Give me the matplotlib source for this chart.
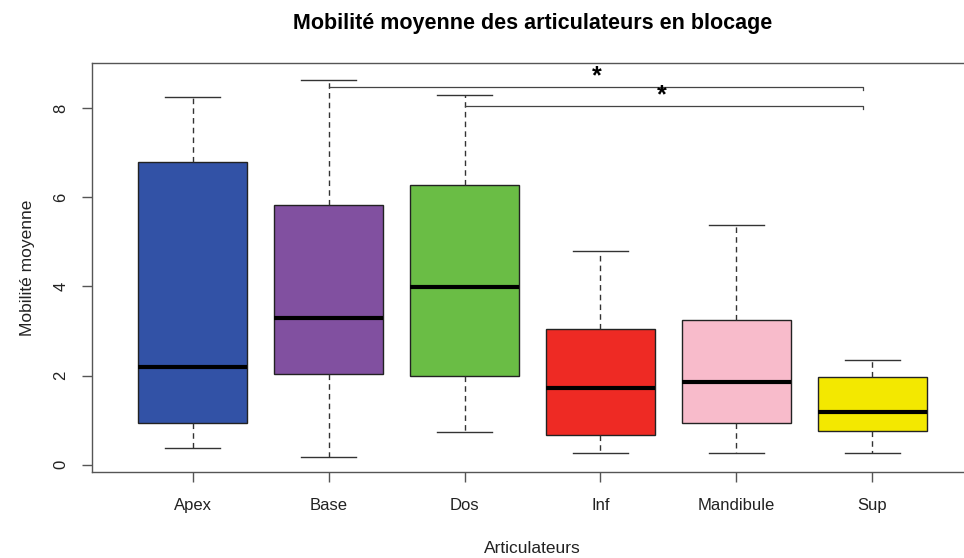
import matplotlib
matplotlib.use("Agg")
import matplotlib.pyplot as plt

plt.rcParams['font.family'] = ['Liberation Sans', 'DejaVu Sans']

# Summary statistics per articulator
categories = ["Apex", "Base", "Dos", "Inf", "Mandibule", "Sup"]
whisk_low = [0.38, 0.18, 0.74, 0.27, 0.27, 0.27]
q1 = [0.94, 2.04, 2.00, 0.67, 0.94, 0.76]
medians = [2.20, 3.30, 3.99, 1.73, 1.86, 1.19]
q3 = [6.79, 5.83, 6.28, 3.05, 3.24, 1.97]
whisk_high = [8.25, 8.63, 8.30, 4.80, 5.38, 2.35]
colors = ["#3252A6", "#8150A0", "#6ABD45", "#EE2A24", "#F8BBCB", "#F3E800"]

# Significance brackets: (start group, end position, height, star x, star y)
brackets = [(2, 5.93, 8.48, 3.97, 8.72), (3, 5.93, 8.05, 4.45, 8.29)]

fig = plt.figure(figsize=(9.64, 5.58), dpi=100)
ax = fig.add_axes([92 / 964, 86 / 558, 881 / 964, 409 / 558])

stats = []
for i, name in enumerate(categories):
    stats.append(dict(label=name, whislo=whisk_low[i], q1=q1[i], med=medians[i],
                      q3=q3[i], whishi=whisk_high[i], fliers=[]))

positions = list(range(1, len(categories) + 1))
bp = ax.bxp(stats, positions=positions, widths=0.8, patch_artist=True,
            showfliers=False, capwidths=0.4,
            boxprops=dict(edgecolor="#222222", linewidth=1.0),
            medianprops=dict(color="black", linewidth=3.0, solid_capstyle="butt"),
            whiskerprops=dict(color="#333333", linewidth=1.0, linestyle=(0, (4, 3))),
            capprops=dict(color="#333333", linewidth=1.0))
for patch, c in zip(bp["boxes"], colors):
    patch.set_facecolor(c)

for start, end, h, sx, sy in brackets:
    ax.plot([start, end, end], [h, h, h - 0.07], color="#444444", linewidth=0.9)
    ax.text(sx, sy, "*", ha="center", va="center", fontsize=18, fontweight="bold")

ax.set_xlim(0.26, 6.74)
ax.set_ylim(-0.16, 9.01)
ax.set_yticks([0, 2, 4, 6, 8])
ax.set_xticks(positions)
ax.set_xticklabels(categories)

for s in ax.spines.values():
    s.set_color("#555555")
    s.set_linewidth(1.0)
ax.tick_params(axis="both", length=7, width=1.0, color="#555555", labelsize=12,
               labelcolor="#222222")
ax.tick_params(axis="x", pad=12)
ax.tick_params(axis="y", pad=10)
for lab in ax.get_yticklabels():
    lab.set_rotation(90)
    lab.set_va("center")

ax.set_xlabel("Articulateurs", fontsize=12.5, color="#222222", labelpad=20)
ax.set_ylabel("Mobilité moyenne", fontsize=12.5, color="#222222", labelpad=13)
fig.text(533 / 964, 1 - 24 / 558, "Mobilité moyenne des articulateurs en blocage",
         ha="center", va="center", fontsize=15.5, fontweight="bold")

fig.savefig("out.png", dpi=100)
